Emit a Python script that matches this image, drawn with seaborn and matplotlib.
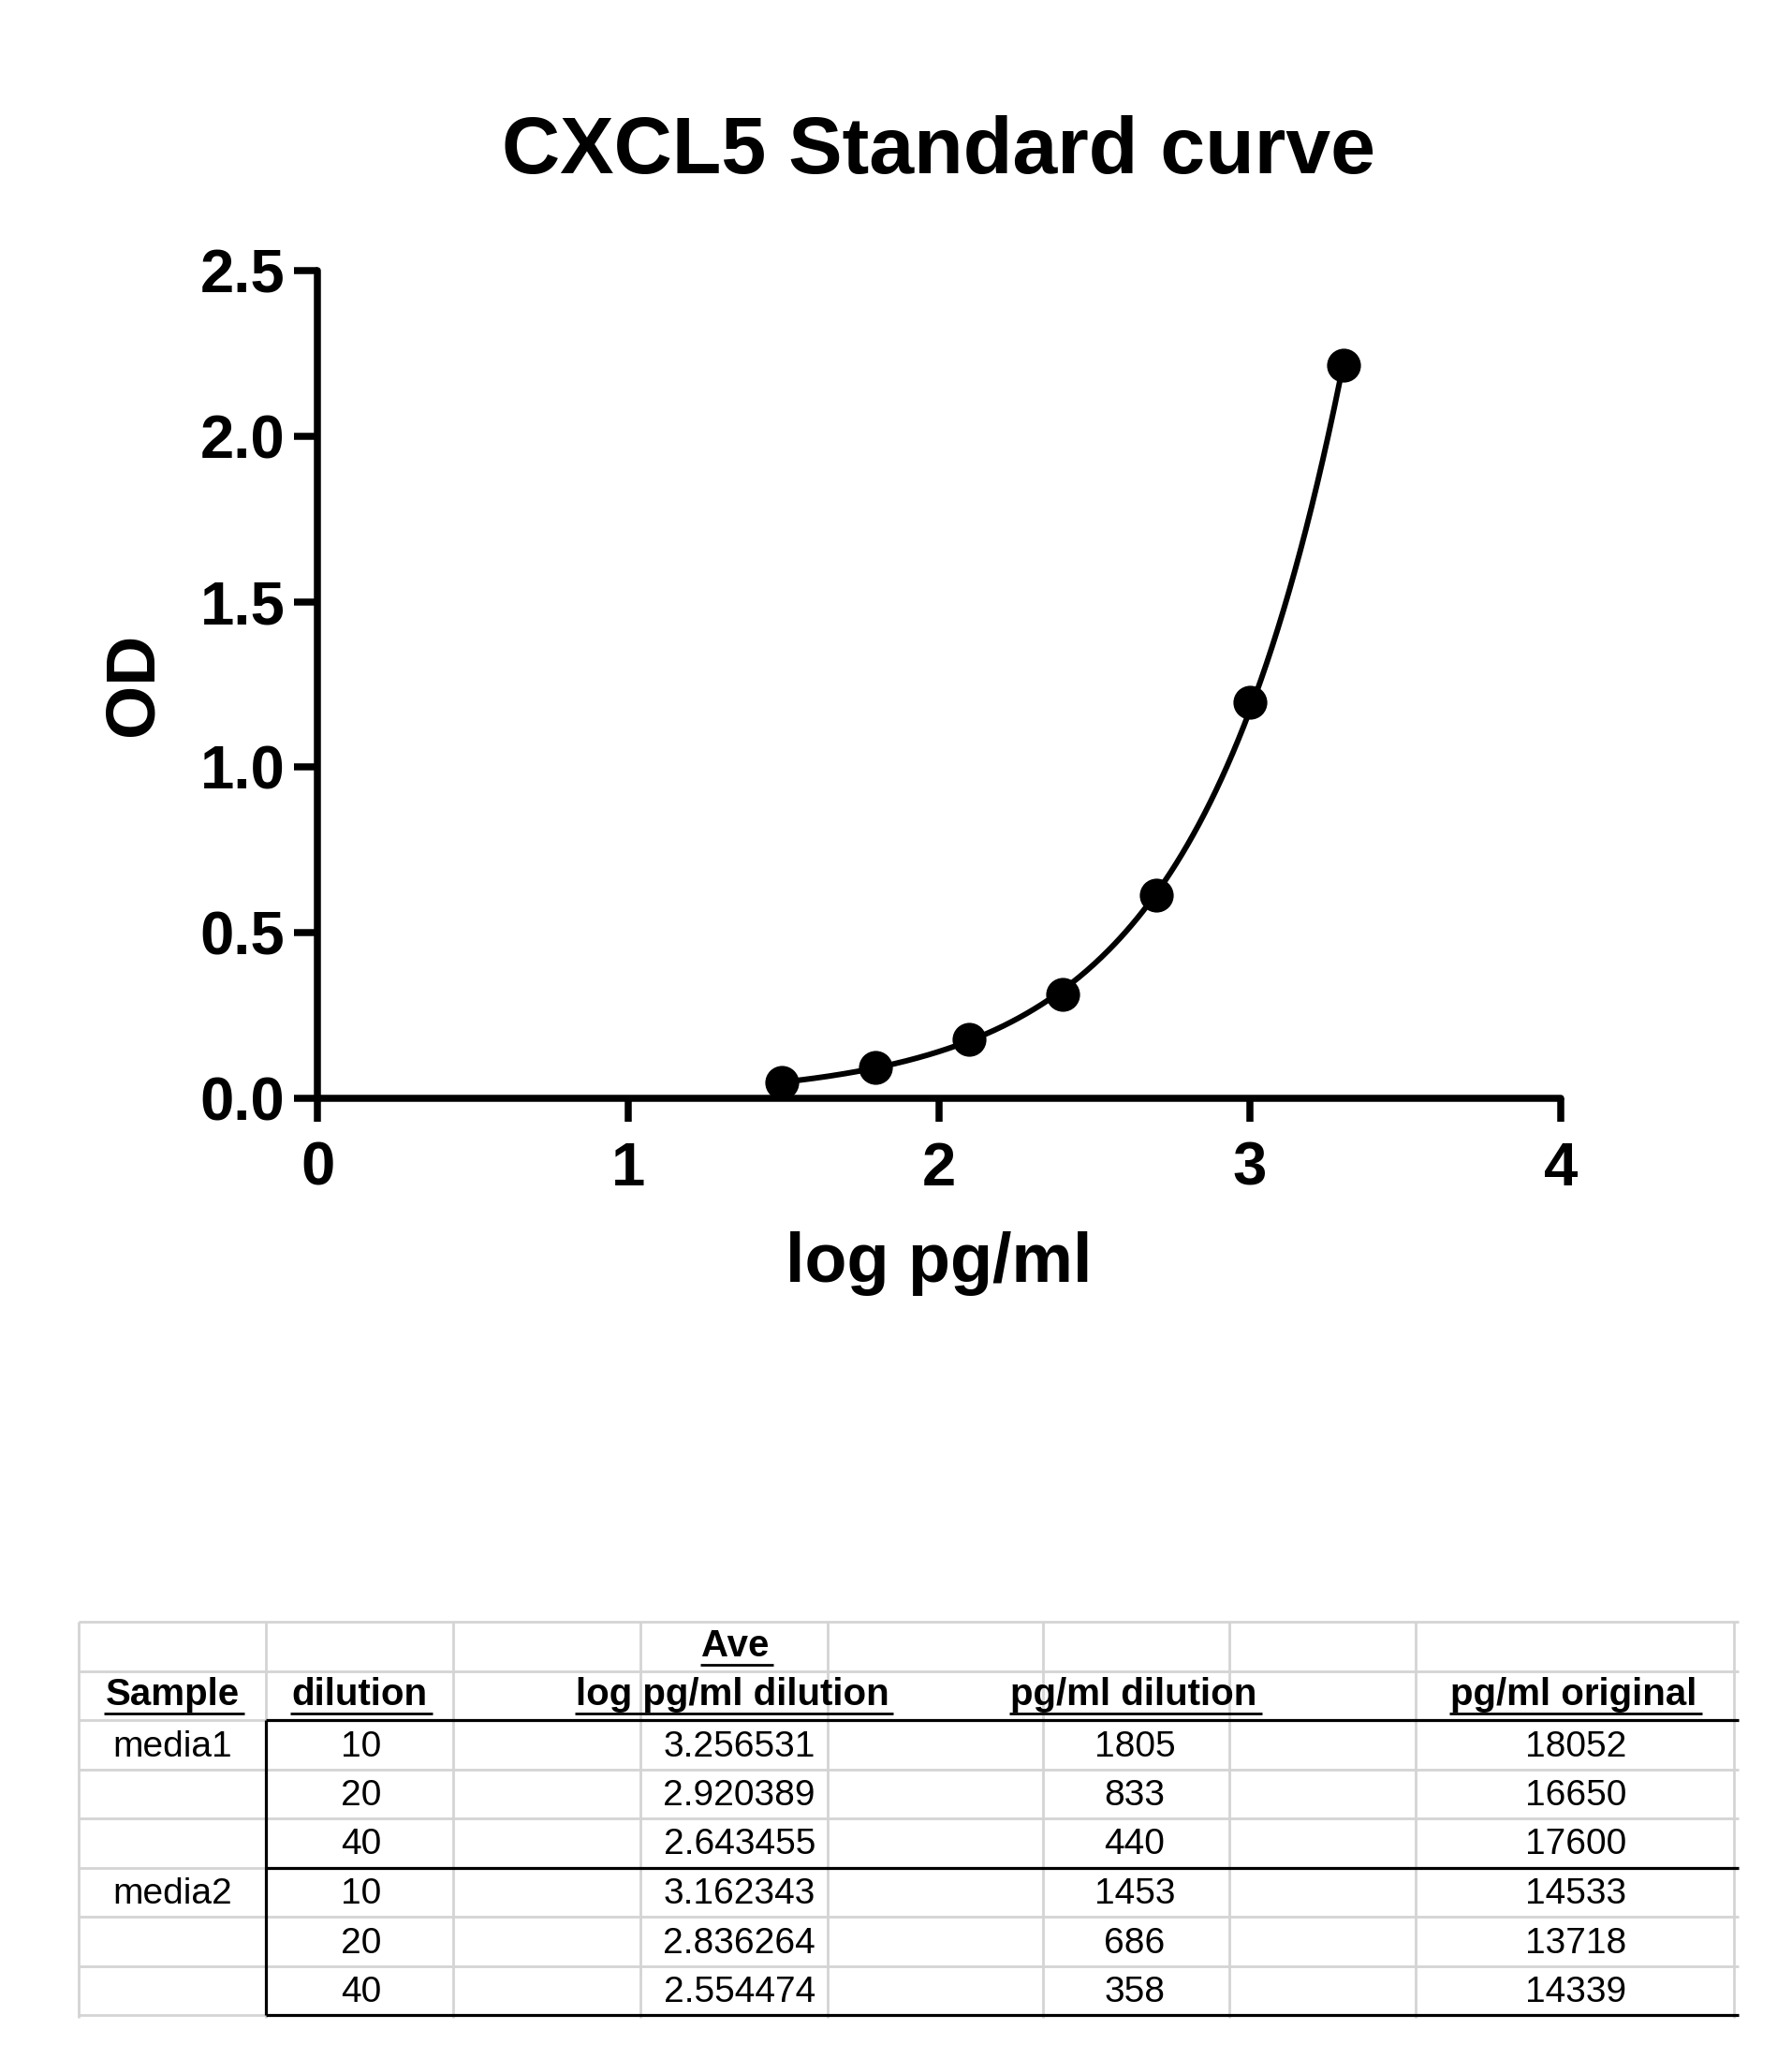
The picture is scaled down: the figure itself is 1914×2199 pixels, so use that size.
import numpy as np
import pandas as pd
import matplotlib
matplotlib.use("Agg")
import matplotlib.pyplot as plt
import seaborn as sns

# standard curve points (log pg/ml vs OD)
log_conc = [1.495, 1.796, 2.097, 2.398, 2.699, 3.000, 3.301]
od = [0.048, 0.094, 0.178, 0.315, 0.615, 1.195, 2.213]

# sample table
samples = ["media1", "", "", "media2", "", ""]
dilutions = [10, 20, 40, 10, 20, 40]
log_dilution = [3.256531, 2.920389, 2.643455, 3.162343, 2.836264, 2.554474]
pg_dilution = [1805, 833, 440, 1453, 686, 358]
pg_original = [18052, 16650, 17600, 14533, 13718, 14339]

sns.set_theme(style="ticks")
plt.rcParams["font.family"] = ["Liberation Sans", "DejaVu Sans"]
plt.rcParams.update({"text.color": "black", "axes.labelcolor": "black",
                     "xtick.color": "black", "ytick.color": "black",
                     "axes.edgecolor": "black"})

W, H = 1914, 2199
fig = plt.figure(figsize=(W / 100, H / 100), dpi=100)
fig.patch.set_facecolor("white")

# plot area in pixel coordinates of the reference
left, right, top, bottom = 339, 1667, 289, 1173
ax = fig.add_axes([left / W, 1 - bottom / H, (right - left) / W, (bottom - top) / H])

df = pd.DataFrame({"log pg/ml": log_conc, "OD": od})

# smooth fitted standard curve (quadratic in log OD)
coef = np.polyfit(df["log pg/ml"], np.log(df["OD"]), 2)
xs = np.linspace(min(log_conc), max(log_conc), 300)
fit = pd.DataFrame({"log pg/ml": xs, "OD": np.exp(np.polyval(coef, xs))})
sns.lineplot(data=fit, x="log pg/ml", y="OD", color="black", lw=4.3, ax=ax)
sns.scatterplot(data=df, x="log pg/ml", y="OD", s=680, color="black",
                edgecolor="black", linewidth=0, zorder=3, ax=ax)

ax.set_xlim(0, 4)
ax.set_ylim(0, 2.5)
ax.set_xticks([0, 1, 2, 3, 4])
ax.set_yticks([0, 0.5, 1.0, 1.5, 2.0, 2.5])
ax.set_xticklabels(["0", "1", "2", "3", "4"])
ax.set_yticklabels(["0.0", "0.5", "1.0", "1.5", "2.0", "2.5"])
ax.set_facecolor("white")
sns.despine(ax=ax)
for s in ["left", "bottom"]:
    ax.spines[s].set_linewidth(5.4)
    ax.spines[s].set_color("black")
    ax.spines[s].set_capstyle("round")
ax.tick_params(axis="both", length=18, width=5.4, color="black", labelsize=47)
ax.tick_params(axis="x", pad=15)
ax.tick_params(axis="y", pad=7)
for lab in ax.get_xticklabels() + ax.get_yticklabels():
    lab.set_fontweight("bold")
ax.set_xlabel("log pg/ml", fontsize=53, fontweight="bold", labelpad=26)
ax.set_ylabel("OD", fontsize=53, fontweight="bold", labelpad=26)
ax.set_title("CXCL5 Standard curve", fontsize=62, fontweight="bold", pad=75)

# table drawn on an overlay in pixel coordinates
tax = fig.add_axes([0, 0, 1, 1])
tax.set_xlim(0, W)
tax.set_ylim(H, 0)
tax.axis("off")

col_edges = [84, 284, 484, 684, 884, 1114, 1313, 1512, 1852]
row_top, row_h, n_rows = 1732, 52.5, 8
row_edges = [row_top + row_h * i for i in range(n_rows + 1)]
grey = "#d4d4d4"
for y in row_edges:
    tax.plot([84, 1857], [y, y], color=grey, lw=2.0, solid_capstyle="butt")
for x in col_edges:
    tax.plot([x, x], [row_edges[0], row_edges[-1] + 3], color=grey, lw=2.0, solid_capstyle="butt")

# black borders around the data block
blk = dict(color="black", lw=2.3, solid_capstyle="butt")
tax.plot([284, 284], [row_edges[2], row_edges[8]], **blk)
for r in (2, 5, 8):
    tax.plot([284, 1857], [row_edges[r], row_edges[r]], **blk)

hdr = [("Sample", 184, 1821), ("dilution", 384, 1821), ("Ave", 785, 1769),
       ("log pg/ml dilution", 782, 1821), ("pg/ml dilution", 1211, 1821),
       ("pg/ml original", 1681, 1821)]
hdr_texts = []
for txt, x, y in hdr:
    t = tax.text(x, y, txt, ha="center", va="baseline", fontsize=29, fontweight="bold")
    hdr_texts.append((t, y))

for i in range(6):
    yb = row_edges[3 + i] - 14
    tax.text(184, yb, samples[i], ha="center", va="baseline", fontsize=28)
    tax.text(386, yb, str(dilutions[i]), ha="center", va="baseline", fontsize=28)
    tax.text(871, yb, f"{log_dilution[i]:.6f}", ha="right", va="baseline", fontsize=28)
    tax.text(1212, yb, str(pg_dilution[i]), ha="center", va="baseline", fontsize=28)
    tax.text(1683, yb, str(pg_original[i]), ha="center", va="baseline", fontsize=28)

# underlines below header texts
fig.canvas.draw()
inv = tax.transData.inverted()
for t, y in hdr_texts:
    bb = t.get_window_extent()
    (x0, _), (x1, _) = inv.transform([(bb.x0, bb.y0), (bb.x1, bb.y1)])
    tax.plot([x0 - 1, x1 + 5], [y + 9, y + 9], color="black", lw=2.0, solid_capstyle="butt")

fig.savefig("out.png", dpi=100, facecolor="white")
